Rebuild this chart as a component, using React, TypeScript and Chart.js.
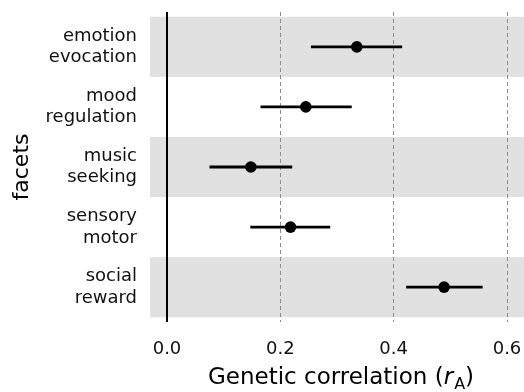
import React, { useEffect, useRef } from 'react';
import { Chart, registerables } from 'chart.js';

Chart.register(...registerables);

const facetLabels: string[][] = [
  ['emotion', 'evocation'],
  ['mood', 'regulation'],
  ['music', 'seeking'],
  ['sensory', 'motor'],
  ['social', 'reward'],
];
const estimates = [0.335, 0.245, 0.148, 0.218, 0.489];
const lowerCI = [0.254, 0.165, 0.075, 0.147, 0.422];
const upperCI = [0.415, 0.326, 0.221, 0.288, 0.557];
const xTicks = [0, 0.2, 0.4, 0.6];
const xTitleParts = ['Genetic correlation (', 'r', 'A', ')'];
const yTitle = 'facets';

const FONT = 'DejaVu Sans';

const backgroundPlugin = {
  id: 'bgBands',
  beforeDraw(chart: any) {
    const { ctx, chartArea, scales } = chart;
    const y = scales.y;
    ctx.save();
    ctx.fillStyle = '#e1e1e1';
    facetLabels.forEach((_, i) => {
      if (i % 2 === 0) {
        const p1 = y.getPixelForValue(i + 1 - 0.5);
        const p2 = y.getPixelForValue(i + 1 + 0.5);
        ctx.fillRect(chartArea.left, Math.min(p1, p2), chartArea.right - chartArea.left, Math.abs(p2 - p1));
      }
    });
    ctx.restore();
  },
  beforeDatasetsDraw(chart: any) {
    const { ctx, chartArea, scales } = chart;
    const x0 = scales.x.getPixelForValue(0);
    ctx.save();
    ctx.strokeStyle = '#000';
    ctx.lineWidth = 2;
    ctx.beginPath();
    ctx.moveTo(x0, chartArea.top);
    ctx.lineTo(x0, chartArea.bottom);
    ctx.stroke();
    ctx.restore();
  },
  afterDraw(chart: any) {
    const { ctx, chartArea } = chart;
    const mainFont = `23px "${FONT}"`;
    const italicFont = `italic 23px "${FONT}"`;
    const subFont = `16px "${FONT}"`;
    ctx.save();
    ctx.fillStyle = '#000';
    ctx.textBaseline = 'alphabetic';
    ctx.textAlign = 'left';
    ctx.font = mainFont;
    const w0 = ctx.measureText(xTitleParts[0]).width;
    ctx.font = italicFont;
    const w1 = ctx.measureText(xTitleParts[1]).width;
    ctx.font = subFont;
    const w2 = ctx.measureText(xTitleParts[2]).width;
    ctx.font = mainFont;
    const w3 = ctx.measureText(xTitleParts[3]).width;
    const total = w0 + w1 + w2 + w3 + 1;
    const cx = (chartArea.left + chartArea.right) / 2 + 4;
    let x = cx - total / 2;
    const baseY = 384;
    ctx.font = mainFont;
    ctx.fillText(xTitleParts[0], x, baseY);
    x += w0;
    ctx.font = italicFont;
    ctx.fillText(xTitleParts[1], x, baseY);
    x += w1 + 1;
    ctx.font = subFont;
    ctx.fillText(xTitleParts[2], x, baseY + 5);
    x += w2;
    ctx.font = mainFont;
    ctx.fillText(xTitleParts[3], x, baseY);
    ctx.restore();
  },
};

export default function App() {
  const canvasRef = useRef<HTMLCanvasElement | null>(null);

  useEffect(() => {
    if (!canvasRef.current) return;
    const errorBarSets = estimates.map((_, i) => ({
      type: 'line' as const,
      data: [
        { x: lowerCI[i], y: i + 1 },
        { x: upperCI[i], y: i + 1 },
      ],
      showLine: true,
      borderColor: '#000',
      borderWidth: 2.8,
      pointRadius: 0,
      borderCapStyle: 'butt',
    }));
    const pointSet = {
      type: 'scatter' as const,
      data: estimates.map((v, i) => ({ x: v, y: i + 1 })),
      pointRadius: 5.8,
      pointBackgroundColor: '#000',
      pointBorderWidth: 0,
      showLine: false,
    };

    const chart = new Chart(canvasRef.current, {
      type: 'scatter',
      data: { datasets: [...errorBarSets, pointSet] as any },
      options: {
        responsive: false,
        animation: false,
        layout: { autoPadding: false, padding: { top: 12, right: 0, bottom: 0, left: 0 } },
        plugins: { legend: { display: false }, tooltip: { enabled: false } },
        scales: {
          x: {
            type: 'linear',
            min: -0.03,
            max: 0.63,
            afterBuildTicks: (s: any) => {
              s.ticks = xTicks.map((v) => ({ value: v }));
            },
            afterFit: (s: any) => {
              s.height = 70;
              s.paddingLeft = 0;
              s.paddingRight = 0;
              s.paddingTop = 0;
              s.paddingBottom = 0;
            },
            ticks: {
              callback: (v: any) => Number(v).toFixed(1),
              font: { family: FONT, size: 18 },
              color: '#111',
              padding: 17,
              maxRotation: 0,
              autoSkip: false,
            },
            grid: {
              color: (ctx: any) => (ctx.tick && ctx.tick.value === 0 ? 'rgba(0,0,0,0)' : '#8c8c8c'),
              lineWidth: 1,
              drawTicks: false,
            },
            border: { display: false, dash: [4, 3] },
          },
          y: {
            type: 'linear',
            reverse: true,
            min: 0.42,
            max: 5.58,
            afterBuildTicks: (s: any) => {
              s.ticks = facetLabels.map((_, i) => ({ value: i + 1 }));
            },
            afterFit: (s: any) => {
              s.width = 150;
              s.paddingLeft = 0;
              s.paddingRight = 0;
              s.paddingTop = 0;
              s.paddingBottom = 0;
            },
            ticks: {
              callback: (v: any) => facetLabels[Math.round(Number(v)) - 1],
              font: { family: FONT, size: 18, lineHeight: 1.2 },
              color: '#111',
              padding: 13,
              autoSkip: false,
            },
            grid: { display: false, drawTicks: false },
            border: { display: false },
            title: {
              display: true,
              text: yTitle,
              font: { family: FONT, size: 22 },
              color: '#000',
              padding: { top: 9, bottom: 0 },
            },
          },
        },
      } as any,
      plugins: [backgroundPlugin],
    });
    return () => chart.destroy();
  }, []);

  return (
    <div style={{ position: 'fixed', left: 0, top: 0, width: 524, height: 392, background: '#fff' }}>
      <canvas ref={canvasRef} width={524} height={392} style={{ width: 524, height: 392 }} />
    </div>
  );
}
